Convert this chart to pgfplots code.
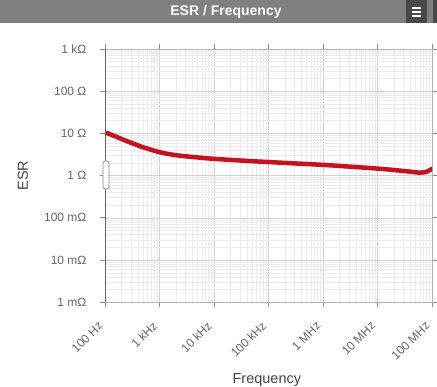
\documentclass[border=0pt]{standalone}
\usepackage{pgfplots}
\pgfplotsset{compat=1.18}
\usepackage{fontspec}
\setmainfont{Liberation Sans}
\definecolor{titlegray}{RGB}{128,128,128}
\definecolor{darkbox}{RGB}{72,72,72}
\definecolor{ticktext}{RGB}{102,102,102}
\definecolor{labeltext}{RGB}{68,68,68}
\definecolor{curvered}{RGB}{196,18,30}
\definecolor{leftaxis}{RGB}{130,90,90}
\begin{document}
\begin{tikzpicture}[x=1pt,y=1pt]
\useasboundingbox (0,0) rectangle (437,387);
\fill[white] (0,0) rectangle (437,387);
\fill[titlegray] (0,364) rectangle (437,387);
\fill[darkbox] (406,364) rectangle (427,387);
\fill[darkbox] (433,364) rectangle (437,387);
\foreach \yy in {370.5,374.5,378.5} \draw[white, line width=2pt] (412,\yy) -- (421,\yy);
\node[white, font=\bfseries\fontsize{14}{16}\selectfont] at (226,375.5) {ESR / Frequency};
\begin{axis}[
  at={(105pt,84.7pt)}, anchor=south west,
  scale only axis, width=327pt, height=253.3pt,
  xmode=log, ymode=log,
  xmin=1e2, xmax=1e8, ymin=1e-3, ymax=1e3,
  xtick={1e2,1e3,1e4,1e5,1e6,1e7,1e8},
  xticklabels={100 Hz,1 kHz,10 kHz,100 kHz,1 MHz,10 MHz,100 MHz},
  ytick={1e-3,1e-2,1e-1,1,1e1,1e2,1e3},
  yticklabels={1 mΩ,10 mΩ,100 mΩ,1 Ω,10 Ω,100 Ω,1 kΩ},
  grid=both,
  major grid style={draw=black!18, line width=0.6pt},
  minor grid style={draw=black!8, line width=0.5pt},
  tick align=outside,
  major tick length=5pt, minor tick length=0pt,
  tick style={draw=black!45, line width=0.8pt},
  axis line style={draw=black!30, line width=0.8pt},
  xticklabel style={xshift=-2pt, yshift=-14pt, rotate=45, anchor=east, font=\fontsize{12}{14}\selectfont, text=ticktext},
  yticklabel style={font=\fontsize{12}{14}\selectfont, text=ticktext, xshift=-10pt},
  xlabel={Frequency}, ylabel={ESR},
  xlabel style={at={(axis description cs:0.495,-0.3067)}, anchor=center, font=\fontsize{14.5}{16}\selectfont, text=labeltext},
  ylabel style={at={(axis description cs:-0.2508,0.5)}, anchor=center, font=\fontsize{14.5}{16}\selectfont, text=labeltext},
  clip=true,
]
\addplot[curvered, line width=4.5pt, line join=round, line cap=round, smooth] table {
f esr
100 10.2
115 10.0
130 9.3
160 8.4
200 7.4
300 6.0
500 4.7
1000 3.6
2000 3.05
5000 2.7
10000 2.5
20000 2.36
50000 2.2
100000 2.1
300000 1.95
1000000 1.8
3000000 1.64
10000000 1.47
20000000 1.36
40000000 1.24
60000000 1.18
80000000 1.24
100000000 1.45
};
\draw[leftaxis, line width=1.5pt] (rel axis cs:0,0) -- (rel axis cs:0,1);
\end{axis}
\draw[black!45, fill=white, rounded corners=2.5pt, line width=0.8pt] (103,198) rectangle (109,226);
\end{tikzpicture}
\end{document}
